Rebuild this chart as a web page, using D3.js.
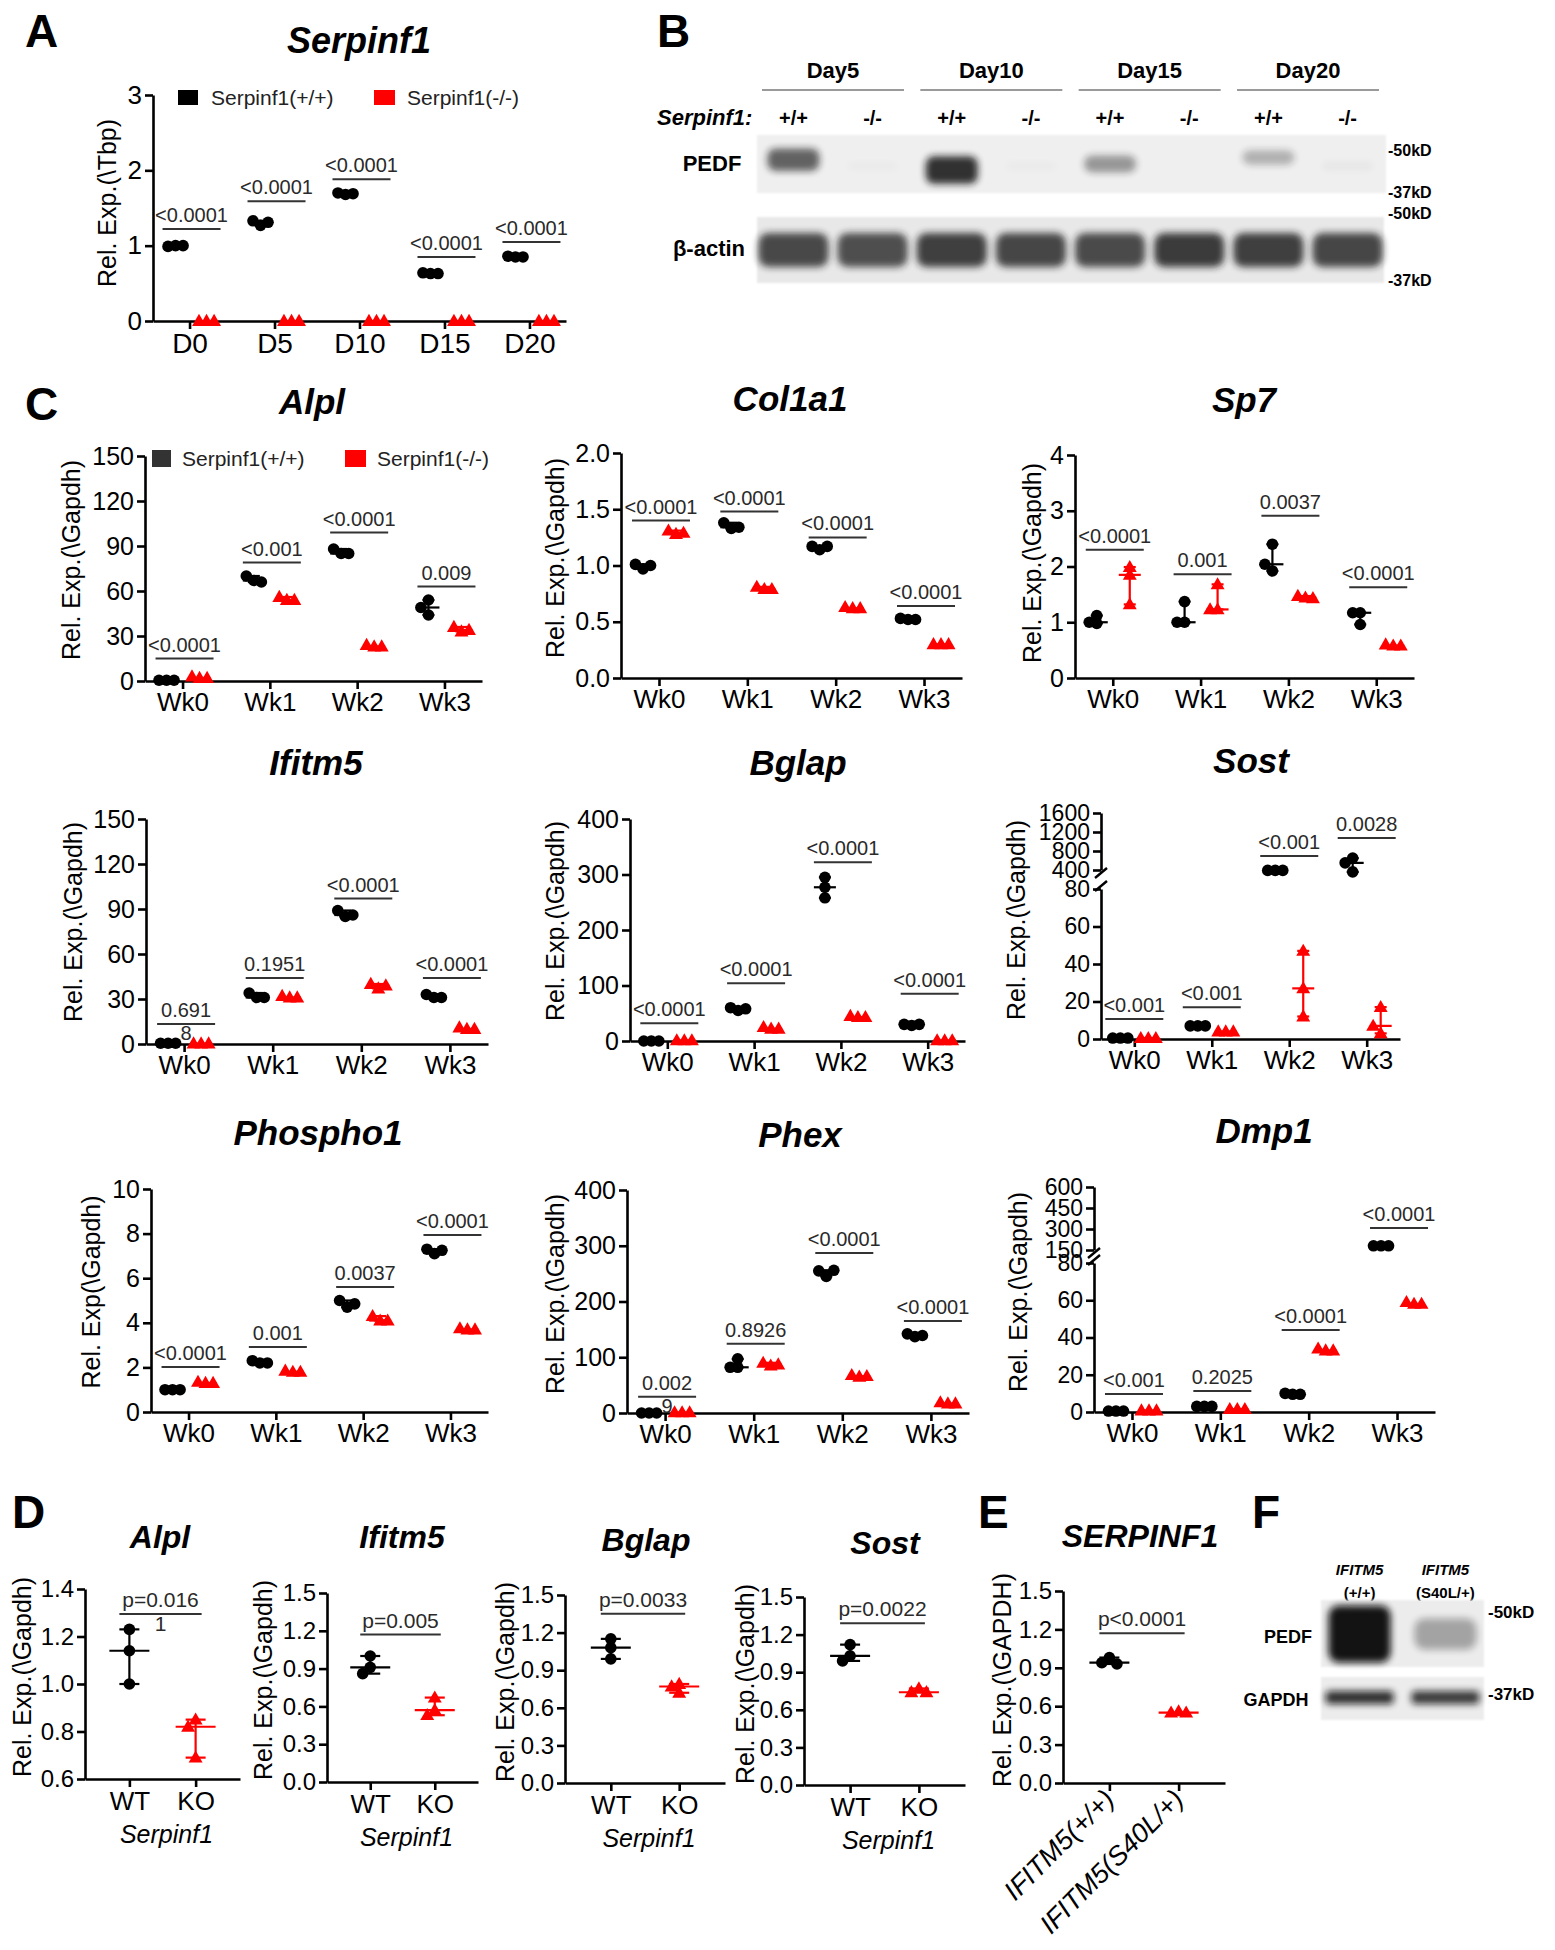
<!DOCTYPE html>
<html><head><meta charset="utf-8">
<script src="https://cdn.jsdelivr.net/npm/d3@7/dist/d3.min.js"></script>
<style>html,body{margin:0;padding:0;background:#fff}svg{display:block}</style>
</head><body>
<svg id="fig" width="1555" height="1950" xmlns="http://www.w3.org/2000/svg"></svg>
<script>
// ================= DATA =================
const days = ["D0","D5","D10","D15","D20"];
const weeks = ["Wk0","Wk1","Wk2","Wk3"];
const genotypes = ["WT","KO"];
const ifitmGenotypes = ["IFITM5(+/+)","IFITM5(S40L/+)"];
const legendLabels = ["Serpinf1(+/+)","Serpinf1(-/-)"];

// A: Serpinf1 (rel. to Tbp)
const serpinf1Ticks = [0,1,2,3];
const serpinf1WT = [[1.0,0.99,1.0],[1.27,1.33,1.31],[1.68,1.70,1.69],[0.63,0.64,0.63],[0.85,0.86,0.85]];
const serpinf1KO = [[0,0,0],[0,0,0],[0,0,0],[0,0,0],[0,0,0]];
const serpinf1SigY = [1.22,1.59,1.88,0.85,1.05];
const serpinf1P = ["<0.0001","<0.0001","<0.0001","<0.0001","<0.0001"];

// C: time courses
const alplTicks = [0,30,60,90,120,150];
const alplWT = [[0.5,0.5,0.5],[67,70,66],[85,88,85],[54,44,49]];
const alplKO = [[2,3,2],[54,56,54],[23,24,23],[33,36,34]];
const alplSigY = [15,79,99,63];
const alplP = ["<0.0001","<0.001","<0.0001","0.009"];

const col1a1Ticks = [0,0.5,1.0,1.5,2.0];
const col1a1WT = [[0.97,1.01,1.0],[1.33,1.38,1.34],[1.14,1.17,1.17],[0.52,0.53,0.52]];
const col1a1KO = [[1.28,1.31,1.29],[0.79,0.81,0.79],[0.62,0.63,0.62],[0.30,0.30,0.30]];
const col1a1SigY = [1.40,1.48,1.25,0.64];
const col1a1P = ["<0.0001","<0.0001","<0.0001","<0.0001"];

const sp7Ticks = [0,1,2,3,4];
const sp7WT = [[1.12,0.98,1.0],[1.37,1.0,1.0],[2.40,1.92,2.04],[1.17,0.96,1.17]];
const sp7KO = [[1.99,1.32,1.85],[1.68,1.23,1.23],[1.44,1.47,1.43],[0.58,0.60,0.58]];
const sp7SigY = [2.30,1.86,2.91,1.63];
const sp7P = ["<0.0001","0.001","0.0037","<0.0001"];

const ifitm5Ticks = [0,30,60,90,120,150];
const ifitm5WT = [[0.5,0.5,0.5],[31,34,31],[85,89,86],[31,33,31]];
const ifitm5KO = [[0.3,0.3,0.3],[31,32,31],[37,40,39],[10,11,10]];
const ifitm5SigY = [13.3,44,97,44];
const ifitm5P = ["0.691\n8","0.1951","<0.0001","<0.0001"];

const bglapTicks = [0,100,200,300,400];
const bglapWT = [[0,0,0],[55,60,58],[295,258,277],[28,30,30]];
const bglapKO = [[1,1,1],[22,25,22],[43,45,43],[1,1,1]];
const bglapSigY = [32,104,322,85];
const bglapP = ["<0.0001","<0.0001","<0.0001","<0.0001"];

const sostTicksLow = [0,20,40,60,80];
const sostTicksHigh = [400,800,1200,1600];
const sostWT = [[0.5,0.5,0.5],[7,7,7],[392,392,392],[650,360,550]];
const sostKO = [[0.5,0.5,0.5],[4,4,4],[47,27,12],[17,3,7]];
const sostSigY = [10.7,17,694,1072];
const sostP = ["<0.001","<0.001","<0.001","0.0028"];

const phospho1Ticks = [0,2,4,6,8,10];
const phospho1WT = [[1.0,1.0,1.0],[2.2,2.3,2.2],[4.7,5.0,4.85],[7.1,7.3,7.25]];
const phospho1KO = [[1.3,1.35,1.3],[1.8,1.85,1.8],[4.1,4.3,4.1],[3.7,3.75,3.7]];
const phospho1SigY = [2.02,2.91,5.6,7.94];
const phospho1P = ["<0.0001","0.001","0.0037","<0.0001"];

const phexTicks = [0,100,200,300,400];
const phexWT = [[0,0,0],[82,97,82],[245,255,256],[137,142,139]];
const phexKO = [[1,1,1],[85,90,87],[65,68,66],[17,19,17]];
const phexSigY = [29,124,287,165];
const phexP = ["0.002\n9","0.8926","<0.0001","<0.0001"];

const dmp1TicksLow = [0,20,40,60,80];
const dmp1TicksHigh = [150,300,450,600];
const dmp1WT = [[0.5,0.5,0.5],[3,3,3],[9.5,10,9.5],[180,180,180]];
const dmp1KO = [[0.8,0.8,0.8],[1.5,1.5,1.5],[33,34,33],[58,59,58]];
const dmp1SigY = [9.7,11.3,44,307];
const dmp1P = ["<0.001","0.2025","<0.0001","<0.0001"];

// D: primary cells, WT vs KO
const dAlplTicks = [0.6,0.8,1.0,1.2,1.4];
const dAlplWT = [1.23,1.14,1.0];
const dAlplKO = [0.85,0.82,0.69];
const dAlplSigY = 1.295;
const dAlplP = "p=0.016\n1";

const dTicks15 = [0,0.3,0.6,0.9,1.2,1.5];
const dIfitm5WT = [1.0,0.91,0.86];
const dIfitm5KO = [0.67,0.57,0.53];
const dIfitm5SigY = 1.17;
const dIfitm5P = "p=0.005";

const dBglapWT = [1.15,1.08,0.99];
const dBglapKO = [0.79,0.77,0.72];
const dBglapSigY = 1.35;
const dBglapP = "p=0.0033";

const dSostWT = [1.12,1.03,0.99];
const dSostKO = [0.77,0.74,0.74];
const dSostSigY = 1.29;
const dSostP = "p=0.0022";

// E: SERPINF1 in IFITM5 cells
const eSerpWT = [0.98,0.94,0.93];
const eSerpKO = [0.56,0.55,0.55];
const eSerpSigY = 1.17;
const eSerpP = "p<0.0001";

// B: western blot (band intensities, 0..1) and apparent size (kD)
const blotDays = ["Day5","Day10","Day15","Day20"];
const blotGenotypes = ["+/+","-/-"];
const pedfIntensity = [0.72,0.02,0.97,0.02,0.45,0.0,0.32,0.04];
const pedfKd = [47.0,45,43.8,45,45.7,45,47.7,45];
const actinIntensity = [0.85,0.82,0.9,0.86,0.84,0.92,0.9,0.86];
const kdMarkers = ["-50kD","-37kD"];

// F: western blot
const fPedfIntensity = [0.97,0.32];
const fGapdhIntensity = [0.85,0.8];

// ================= DRAWING =================
const FONT = "'Liberation Sans', Arial, Helvetica, sans-serif";
const BLACK = "#000", RED = "#ff0000";
const svg = d3.select("#fig").attr("font-family", FONT);
svg.append("rect").attr("width",1555).attr("height",1950).attr("fill","#fff");
const defs = svg.append("defs");
defs.append("filter").attr("id","blur3").attr("x","-50%").attr("y","-100%").attr("width","200%").attr("height","300%")
  .append("feGaussianBlur").attr("stdDeviation",3.6);
defs.append("filter").attr("id","blur1").attr("x","-5%").attr("y","-20%").attr("width","110%").attr("height","140%")
  .append("feGaussianBlur").attr("stdDeviation",1.2);

function txt(g, x, y, s, o = {}) {
  return g.append("text").attr("x",x).attr("y",y).text(s)
    .attr("font-size", o.fs || 20).attr("font-weight", o.fw || "normal")
    .attr("font-style", o.it ? "italic" : "normal")
    .attr("text-anchor", o.anchor || "middle").attr("fill", o.fill || "#000");
}
function letter(s, x, y) { txt(svg, x, y, s, {fs:46, fw:"bold", anchor:"start"}); }

function styleAxis(ax, fs) {
  ax.attr("font-family", FONT).attr("font-size", fs);
  ax.selectAll("path.domain").attr("stroke","#000").attr("stroke-width",2.6);
  ax.selectAll(".tick line").attr("stroke","#000").attr("stroke-width",2.6);
  ax.selectAll(".tick text").attr("fill","#000");
}
function yAxis(g, scale, ticks, fmt, x0, fs) {
  const ax = g.append("g").attr("transform",`translate(${x0},0)`)
    .call(d3.axisLeft(scale).tickValues(ticks).tickFormat(fmt).tickSize(8).tickSizeOuter(0).tickPadding(3));
  styleAxis(ax, fs);
  return ax;
}
function yLabel(g, s, x, y, fs) {
  g.append("text").attr("transform",`translate(${x},${y}) rotate(-90)`).attr("text-anchor","middle")
    .attr("dy","0.35em").attr("font-size",fs).attr("fill","#000").text(s);
}
function beeswarm(ys, r) {
  const placed = [];
  const step = r * 1.3;
  return ys.map(yv => {
    for (const k of [0,-1,1,-2,2]) {
      const dx = k * step;
      if (placed.every(p => Math.hypot(p[0]-dx, p[1]-yv) >= step)) { placed.push([dx,yv]); return dx; }
    }
    placed.push([0,yv]); return 0;
  });
}
function marker(g, kind, cx, cy, color, r) {
  if (kind === "circle") g.append("circle").attr("cx",cx).attr("cy",cy).attr("r",r).attr("fill",color);
  else g.append("path").attr("d", d3.symbol(d3.symbolTriangle, r*r*2.5)())
    .attr("transform",`translate(${cx},${cy + r*0.15})`).attr("fill",color);
}
function errbar(g, cx, vals, y, color, mw, cw) {
  const med = d3.median(vals), lo = d3.min(vals), hi = d3.max(vals);
  const ln = (x1,y1,x2,y2) => g.append("line").attr("x1",x1).attr("y1",y1).attr("x2",x2).attr("y2",y2)
    .attr("stroke",color).attr("stroke-width",2.2);
  ln(cx-mw/2, y(med), cx+mw/2, y(med));
  if (Math.abs(y(lo)-y(hi)) > 2) {
    ln(cx, y(lo), cx, y(hi));
    ln(cx-cw/2, y(lo), cx+cw/2, y(lo));
    ln(cx-cw/2, y(hi), cx+cw/2, y(hi));
  }
}
function group(g, cx, vals, y, kind, color, r, mw, cw) {
  const ys = vals.map(v => y(v));
  const dx = beeswarm(ys, r);
  vals.forEach((v,i) => marker(g, kind, cx + dx[i], ys[i], color, r));
  errbar(g, cx, vals, y, color, mw, cw);
}
function sig(g, xa, xb, yp, label, fs) {
  g.append("line").attr("x1",xa).attr("x2",xb).attr("y1",yp).attr("y2",yp).attr("stroke","#333").attr("stroke-width",2);
  const parts = label.split("\n");
  txt(g, (xa+xb)/2, yp-7, parts[0], {fs, fill:"#2a2a2a"});
  if (parts[1]) txt(g, (xa+xb)/2, yp + fs*0.8, parts[1], {fs, fill:"#2a2a2a"});
}

// grouped time-course panel
function groupPanel(c) {
  const g = svg.append("g");
  const x = d3.scalePoint().domain(c.cats).range([c.x0, c.x1]).padding(0.43);
  const tfs = c.tickFs || 25;
  let y;
  if (c.broken) {
    const lo = d3.scaleLinear().domain([c.ticksLow[0], c.ticksLow[c.ticksLow.length-1]]).range([c.yb, c.yLowTop]);
    const hi = d3.scaleLinear().domain([c.ticksHigh[0], c.ticksHigh[c.ticksHigh.length-1]]).range([c.yHighBot, c.yt]);
    y = v => v <= c.ticksLow[c.ticksLow.length-1] ? lo(v) : hi(v);
    yAxis(g, lo, c.ticksLow, d3.format("d"), c.x0, tfs);
    yAxis(g, hi, c.ticksHigh, d3.format("d"), c.x0, tfs);
    [c.yHighBot + 3, c.yLowTop - 3].forEach(yy =>
      g.append("line").attr("x1",c.x0-6).attr("x2",c.x0+6).attr("y1",yy+5).attr("y2",yy-5)
        .attr("stroke","#000").attr("stroke-width",2.4));
  } else {
    y = d3.scaleLinear().domain([c.ticks[0], c.ticks[c.ticks.length-1]]).range([c.yb, c.yt]);
    yAxis(g, y, c.ticks, c.fmt || d3.format("d"), c.x0, tfs);
  }
  const xa = g.append("g").attr("transform",`translate(0,${c.yb})`)
    .call(d3.axisBottom(x).tickSize(8).tickSizeOuter(0).tickPadding(4));
  styleAxis(xa, c.xFs || 26);

  txt(g, c.title[0], c.title[1], c.name, {fs: c.titleFs || 35, fw:"bold", it:true});
  yLabel(g, c.ylab, c.ylabPos[0], c.ylabPos[1], 25);

  c.cats.forEach((cat,i) => {
    const cx = x(cat);
    sig(g, cx - 27 + (c.sigShift||0), cx + 31 + (c.sigShift||0), y(c.sigY[i]), c.p[i], 20);
    group(g, cx + (c.wtOff || -16), c.wt[i], y, "circle", BLACK, 5.8, 22, 12);
    group(g, cx + (c.koOff || 17), c.ko[i], y, "tri", RED, 5.8, 22, 12);
  });
  return g;
}

// two-group panel (D, E)
function pairPanel(c) {
  const g = svg.append("g");
  const x = d3.scalePoint().domain(c.cats).range([c.x0, c.x1]).padding(0.67);
  const y = d3.scaleLinear().domain([c.ticks[0], c.ticks[c.ticks.length-1]]).range([c.yb, c.yt]);
  yAxis(g, y, c.ticks, d3.format(".1f"), c.x0, 24);
  const xa = g.append("g").attr("transform",`translate(0,${c.yb})`)
    .call(d3.axisBottom(x).tickSize(8).tickSizeOuter(0).tickPadding(5));
  styleAxis(xa, c.rotate ? 27 : 26);
  if (c.rotate) {
    xa.selectAll(".tick text").attr("x",0).attr("y",0).attr("dy",0)
      .attr("text-anchor","end").attr("font-style","italic")
      .attr("transform","translate(6,18) rotate(-45)");
  }
  if (c.sub) txt(g, (c.x0+c.x1)/2 + 4, c.yb + 64, c.sub, {fs:25, it:true});
  txt(g, c.title[0], c.title[1], c.name, {fs:32, fw:"bold", it:true});
  yLabel(g, c.ylab, c.ylabPos[0], c.ylabPos[1], 25);
  const xw = x(c.cats[0]), xk = x(c.cats[1]);
  sig(g, xw - 10, xk + 6, y(c.sigY), c.p, 21);
  group(g, xw, c.wt, y, "circle", BLACK, 5.8, 40, 20);
  group(g, xk, c.ko, y, "tri", RED, 5.8, 40, 20);
}

// ---------- Panel A ----------
letter("A", 25, 47);
groupPanel({name:"Serpinf1", cats:days, ticks:serpinf1Ticks, wt:serpinf1WT, ko:serpinf1KO,
  sigY:serpinf1SigY, p:serpinf1P, x0:153, x1:566, yt:95, yb:321, wtOff:-14, koOff:17,
  title:[359,53], titleFs:36, ylab:"Rel. Exp.(\\Tbp)", ylabPos:[107,203], tickFs:26, xFs:28});
(function legendA(){
  const g = svg.append("g");
  g.append("rect").attr("x",178).attr("y",90).attr("width",20).attr("height",15).attr("fill",BLACK);
  txt(g, 211, 105, legendLabels[0], {fs:21, anchor:"start", fill:"#222"});
  g.append("rect").attr("x",374).attr("y",90).attr("width",21).attr("height",15).attr("fill",RED);
  txt(g, 407, 105, legendLabels[1], {fs:21, anchor:"start", fill:"#222"});
})();

// ---------- Panel B (blot) ----------
letter("B", 657, 47);
(function blotB(){
  const g = svg.append("g");
  const lane = d3.scaleBand().domain(d3.range(8)).range([757,1384]).paddingInner(0.08);
  const lc = i => lane(i) + lane.bandwidth()/2;
  const kd = d3.scaleLinear().domain([50,37]).range([150,192]);
  blotDays.forEach((d,i) => {
    const a = lane(2*i) + 5, b = lane(2*i+1) + lane.bandwidth() - 5;
    txt(g, (a+b)/2, 78, d, {fs:22, fw:"bold"});
    g.append("line").attr("x1",a).attr("x2",b).attr("y1",90).attr("y2",90).attr("stroke","#9a9a9a").attr("stroke-width",2.2);
  });
  txt(g, 657, 125, "Serpinf1:", {fs:22, fw:"bold", it:true, anchor:"start"});
  d3.range(8).forEach(i => txt(g, lc(i), 125, blotGenotypes[i%2], {fs:20, fw:"bold"}));
  // PEDF membrane
  g.append("rect").attr("x",757).attr("y",135).attr("width",629).attr("height",58).attr("fill","#efefef").attr("filter","url(#blur1)");
  d3.range(8).forEach(i => {
    const h = 8 + 20*pedfIntensity[i];
    if (pedfIntensity[i] > 0.01)
      g.append("rect").attr("x", lc(i)-26).attr("y", kd(pedfKd[i]) - h/2).attr("width",52).attr("height",h)
        .attr("rx",8).attr("fill","#151515").attr("opacity", pedfIntensity[i]*0.9).attr("filter","url(#blur3)");
  });
  // beta-actin membrane
  g.append("rect").attr("x",757).attr("y",217).attr("width",627).attr("height",66).attr("fill","#e8e8e8").attr("filter","url(#blur1)");
  d3.range(8).forEach(i => {
    g.append("rect").attr("x", lc(i)-35).attr("y",233).attr("width",70).attr("height",34).attr("rx",10)
      .attr("fill","#1a1a1a").attr("opacity", actinIntensity[i]*0.92).attr("filter","url(#blur3)");
  });
  txt(g, 712, 171, "PEDF", {fs:22, fw:"bold"});
  txt(g, 709, 256, "β-actin", {fs:22, fw:"bold"});
  [[150,0],[192,1],[213,0],[280,1]].forEach(([yy,k]) => txt(g, 1388, yy+6, kdMarkers[k], {fs:16, fw:"bold", anchor:"start"}));
})();

// ---------- Panel C ----------
letter("C", 25, 420);
const ylG = "Rel. Exp.(\\Gapdh)";
groupPanel({name:"Alpl", cats:weeks, ticks:alplTicks, wt:alplWT, ko:alplKO, sigY:alplSigY, p:alplP,
  x0:145, x1:482, yt:456, yb:681, title:[312,414], ylab:ylG, ylabPos:[71,560]});
(function legendC(){
  const g = svg.append("g");
  g.append("rect").attr("x",152).attr("y",450).attr("width",19).attr("height",17).attr("fill","#333");
  txt(g, 182, 466, legendLabels[0], {fs:21, anchor:"start", fill:"#222"});
  g.append("rect").attr("x",345).attr("y",450).attr("width",21).attr("height",17).attr("fill",RED);
  txt(g, 377, 466, legendLabels[1], {fs:21, anchor:"start", fill:"#222"});
})();
groupPanel({name:"Col1a1", cats:weeks, ticks:col1a1Ticks, fmt:d3.format(".1f"), wt:col1a1WT, ko:col1a1KO,
  sigY:col1a1SigY, p:col1a1P, x0:621, x1:962, yt:453, yb:678, title:[790,411], ylab:ylG, ylabPos:[555,558]});
groupPanel({name:"Sp7", cats:weeks, ticks:sp7Ticks, wt:sp7WT, ko:sp7KO, sigY:sp7SigY, p:sp7P,
  x0:1075, x1:1414, yt:455, yb:678, title:[1244,412], ylab:ylG, ylabPos:[1032,563]});

groupPanel({name:"Ifitm5", cats:weeks, ticks:ifitm5Ticks, wt:ifitm5WT, ko:ifitm5KO, sigY:ifitm5SigY, p:ifitm5P,
  x0:146, x1:488, yt:819, yb:1044, title:[316,775], ylab:ylG, ylabPos:[73,922]});
groupPanel({name:"Bglap", cats:weeks, ticks:bglapTicks, wt:bglapWT, ko:bglapKO, sigY:bglapSigY, p:bglapP,
  x0:630, x1:965, yt:819, yb:1041, title:[798,775], ylab:ylG, ylabPos:[555,921]});
groupPanel({name:"Sost", cats:weeks, broken:true, ticksLow:sostTicksLow, ticksHigh:sostTicksHigh,
  wt:sostWT, ko:sostKO, sigY:sostSigY, p:sostP, x0:1101, x1:1400, yb:1039, yLowTop:889, yHighBot:870, yt:813,
  wtOff:-14, koOff:14, sigShift:-2, tickFs:23, title:[1251,773], ylab:ylG, ylabPos:[1016,920]});

groupPanel({name:"Phospho1", cats:weeks, ticks:phospho1Ticks, wt:phospho1WT, ko:phospho1KO, sigY:phospho1SigY, p:phospho1P,
  x0:151, x1:488, yt:1189, yb:1412, title:[318,1145], ylab:"Rel. Exp(\\Gapdh)", ylabPos:[91,1292]});
groupPanel({name:"Phex", cats:weeks, ticks:phexTicks, wt:phexWT, ko:phexKO, sigY:phexSigY, p:phexP,
  x0:627, x1:969, yt:1190, yb:1413, title:[800,1147], ylab:ylG, ylabPos:[555,1294]});
groupPanel({name:"Dmp1", cats:weeks, broken:true, ticksLow:dmp1TicksLow, ticksHigh:dmp1TicksHigh,
  wt:dmp1WT, ko:dmp1KO, sigY:dmp1SigY, p:dmp1P, x0:1094, x1:1435, yb:1412, yLowTop:1263, yHighBot:1250, yt:1187,
  tickFs:23, title:[1264,1143], ylab:ylG, ylabPos:[1018,1292]});

// ---------- Panel D ----------
letter("D", 12, 1528);
pairPanel({name:"Alpl", cats:genotypes, ticks:dAlplTicks, wt:dAlplWT, ko:dAlplKO, sigY:dAlplSigY, p:dAlplP,
  x0:85, x1:240, yt:1589, yb:1779, title:[160,1548], ylab:ylG, ylabPos:[22,1677], sub:"Serpinf1"});
pairPanel({name:"Ifitm5", cats:genotypes, ticks:dTicks15, wt:dIfitm5WT, ko:dIfitm5KO, sigY:dIfitm5SigY, p:dIfitm5P,
  x0:327, x1:478, yt:1593, yb:1782, title:[402,1548], ylab:ylG, ylabPos:[263,1680], sub:"Serpinf1"});
pairPanel({name:"Bglap", cats:genotypes, ticks:dTicks15, wt:dBglapWT, ko:dBglapKO, sigY:dBglapSigY, p:dBglapP,
  x0:565, x1:725, yt:1595, yb:1783, title:[646,1551], ylab:ylG, ylabPos:[505,1682], sub:"Serpinf1"});
pairPanel({name:"Sost", cats:genotypes, ticks:dTicks15, wt:dSostWT, ko:dSostKO, sigY:dSostSigY, p:dSostP,
  x0:804, x1:965, yt:1597, yb:1785, title:[885,1554], ylab:ylG, ylabPos:[745,1684], sub:"Serpinf1"});

// ---------- Panel E ----------
letter("E", 978, 1528);
pairPanel({name:"SERPINF1", cats:ifitmGenotypes, ticks:dTicks15, wt:eSerpWT, ko:eSerpKO, sigY:eSerpSigY, p:eSerpP,
  x0:1063, x1:1225, yt:1591, yb:1783, title:[1140,1547], ylab:"Rel. Exp.(\\GAPDH)", ylabPos:[1002,1680], rotate:true});

// ---------- Panel F (blot) ----------
letter("F", 1252, 1528);
(function blotF(){
  const g = svg.append("g");
  const lane = d3.scaleBand().domain([0,1]).range([1321,1484]).paddingInner(0.1);
  const lc = i => lane(i) + lane.bandwidth()/2;
  ["(+/+)","(S40L/+)"].forEach((s,i) => {
    txt(g, lc(i), 1575, "IFITM5", {fs:15, fw:"bold", it:true});
    txt(g, lc(i), 1598, s, {fs:15, fw:"bold"});
  });
  g.append("rect").attr("x",1321).attr("y",1600).attr("width",163).attr("height",67).attr("fill","#ececec").attr("filter","url(#blur1)");
  fPedfIntensity.forEach((v,i) => {
    const h = 18 + 40*v;
    g.append("rect").attr("x", lc(i)-31).attr("y", 1634 - h/2).attr("width",62).attr("height",h).attr("rx",10)
      .attr("fill","#0a0a0a").attr("opacity", v).attr("filter","url(#blur3)");
  });
  g.append("rect").attr("x",1321).attr("y",1677).attr("width",163).attr("height",43).attr("fill","#ececec").attr("filter","url(#blur1)");
  fGapdhIntensity.forEach((v,i) => {
    g.append("rect").attr("x", lc(i)-34).attr("y",1691).attr("width",68).attr("height",13).attr("rx",4)
      .attr("fill","#111").attr("opacity", v).attr("filter","url(#blur3)");
  });
  txt(g, 1288, 1643, "PEDF", {fs:18, fw:"bold"});
  txt(g, 1276, 1706, "GAPDH", {fs:18, fw:"bold"});
  txt(g, 1488, 1618, kdMarkers[0], {fs:17, fw:"bold", anchor:"start"});
  txt(g, 1488, 1700, kdMarkers[1], {fs:17, fw:"bold", anchor:"start"});
})();
</script></body></html>
